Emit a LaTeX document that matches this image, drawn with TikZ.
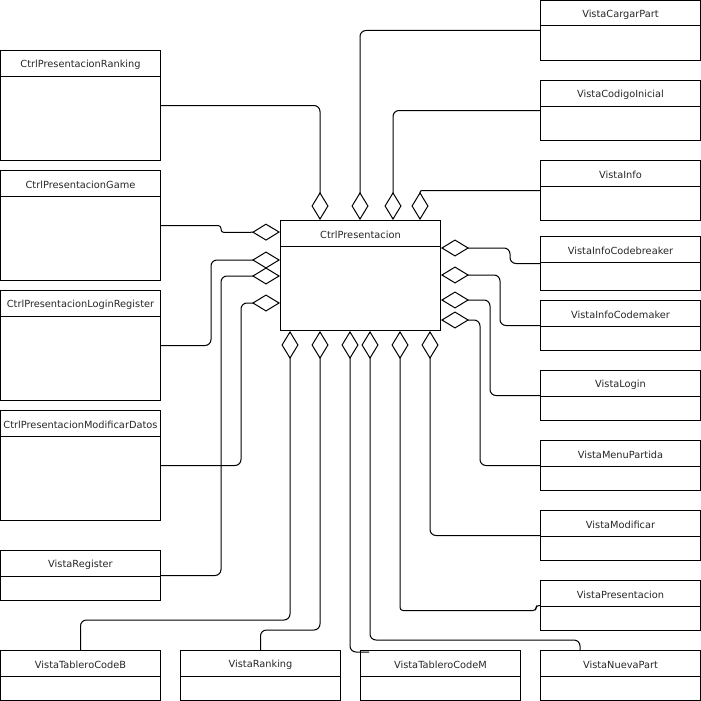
\documentclass[tikz,border=0pt]{standalone}
\usepackage{fontspec}
\setmainfont{DejaVu Sans}
\usetikzlibrary{arrows.meta,calc}
\tikzset{
  cls/.style={draw=black, line width=1pt, rectangle, inner sep=0pt, anchor=north west},
  ttl/.style={font=\fontsize{9.8}{11}\selectfont, inner sep=0pt, text=black!85},
  conn/.style={draw=black, line width=1pt, rounded corners=6pt,
    -{Diamond[open,length=28pt,width=17pt,line join=miter]}},
  jog/.style={rounded corners=3pt}
}
\newcommand{\umlcls}[6]{%
  \node[cls, minimum width=#4pt, minimum height=#5pt] (#1) at (#2,#3) {};
  \draw[line width=1pt] ($(#1.north west)+(0,26)$) -- ($(#1.north east)+(0,26)$);
  \node[ttl] (#1-t) at ($(#1.north)+(0,15)$) {#6};
}
\begin{document}
\begin{tikzpicture}[x=1pt,y=-1pt]
\useasboundingbox (0,0) rectangle (701,701);
% central
\umlcls{cp}{280}{220}{160}{110}{CtrlPresentacion}
% left
\umlcls{cpr}{0}{50}{160}{110}{CtrlPresentacionRanking}
\umlcls{cpg}{0}{170}{160}{110}{CtrlPresentacionGame}
\umlcls{cplr}{0}{290}{160}{110}{CtrlPresentacionLoginRegister}
\umlcls{cpmd}{0}{410}{160}{110}{CtrlPresentacionModificarDatos}
\umlcls{vreg}{0}{550}{160}{50}{VistaRegister}
\umlcls{vtcb}{0}{650}{160}{50}{VistaTableroCodeB}
% bottom
\umlcls{vrank}{180}{650}{160}{50}{VistaRanking}
\umlcls{vtcm}{360}{650}{160}{50}{VistaTableroCodeM}
\umlcls{vnp}{540}{650}{160}{50}{VistaNuevaPart}
% right
\umlcls{vcp}{540}{0}{160}{60}{VistaCargarPart}
\umlcls{vci}{540}{80}{160}{60}{VistaCodigoInicial}
\umlcls{vi}{540}{160}{160}{60}{VistaInfo}
\umlcls{vicb}{540}{236}{160}{54}{VistaInfoCodebreaker}
\umlcls{vicm}{540}{300}{160}{50}{VistaInfoCodemaker}
\umlcls{vl}{540}{370}{160}{50}{VistaLogin}
\umlcls{vmp}{540}{440}{160}{50}{VistaMenuPartida}
\umlcls{vm}{540}{510}{160}{50}{VistaModificar}
\umlcls{vp}{540}{580}{160}{50}{VistaPresentacion}
% top connectors
\draw[conn] (cpr.east) -| ($(cp.north west)+(40,0)$);
\draw[conn] (vcp.west) -| ($(cp.north west)+(80,0)$);
\draw[conn] (vci.west) -| ($(cp.north west)+(113,0)$);
\draw[conn, rounded corners=2pt] (vi.west) -| ($(cp.north west)+(140,0)$);
% left connectors
\draw[conn, jog] (cpg.east) -- ++(60,0) -- ++(0,7) -- ($(cp.north west)+(0,12)$);
\draw[conn] (cplr.east) -- ++(50,0) |- ($(cp.north west)+(0,40)$);
\draw[conn] (vreg.east) -- ++(60,0) |- ($(cp.north west)+(0,56)$);
\draw[conn] (cpmd.east) -- ++(80,0) |- ($(cp.north west)+(0,83)$);
% right connectors
\draw[conn] (vicb.west) -- ++(-30,0) |- ($(cp.north east)+(0,28)$);
\draw[conn] (vicm.west) -- ++(-40,0) |- ($(cp.north east)+(0,55)$);
\draw[conn] (vl.west) -- ++(-50,0) |- ($(cp.north east)+(0,80)$);
\draw[conn] (vmp.west) -- ++(-60,0) |- ($(cp.north east)+(0,100)$);
% bottom connectors
\draw[conn] (vm.west) -| ($(cp.south west)+(150,0)$);
\draw[conn, jog] (vp.west) -- ++(-4,0) -- ++(0,5) -| ($(cp.south west)+(120,0)$);
\draw[conn] ($(vnp.north west)+(40,0)$) -- ++(0,-10) -| ($(cp.south west)+(90,0)$);
\draw[conn] ($(vtcm.north west)+(9,2)$) -| ($(cp.south west)+(70,0)$);
\draw[conn] (vrank.north) -- ++(0,-20) -| ($(cp.south west)+(40,0)$);
\draw[conn] (vtcb.north) -- ++(0,-30) -| ($(cp.south west)+(10,0)$);
\end{tikzpicture}
\end{document}
